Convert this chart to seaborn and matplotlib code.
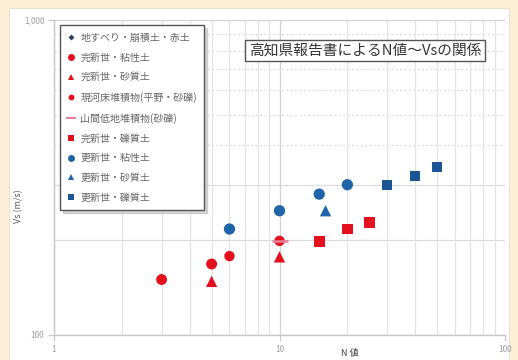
import matplotlib
matplotlib.use("Agg")
import matplotlib.pyplot as plt
from matplotlib.lines import Line2D
from matplotlib.patches import Rectangle
from matplotlib.ticker import FixedLocator, NullFormatter
import pandas as pd
import seaborn as sns

# N value / shear-wave velocity pairs per soil class
landslide_n = []
landslide_vs = []
hol_clay_n = [3, 5]
hol_clay_vs = [150, 168]
hol_sand_n = [5, 10]
hol_sand_vs = [148, 177]
river_gravel_n = [6, 10]
river_gravel_vs = [178, 199]
valley_gravel_n = [10]
valley_gravel_vs = [199]
hol_gravel_n = [15, 20, 25]
hol_gravel_vs = [198, 217, 228]
ple_clay_n = [6, 10, 15, 20]
ple_clay_vs = [217, 248, 280, 300]
ple_sand_n = [16]
ple_sand_vs = [248]
ple_gravel_n = [30, 40, 50]
ple_gravel_vs = [300, 320, 341]

labels = [
    "地すべり・崩積土・赤土",
    "完新世・粘性土",
    "完新世・砂質土",
    "現河床堆積物(平野・砂礫)",
    "山間低地堆積物(砂礫)",
    "完新世・礫質土",
    "更新世・粘性土",
    "更新世・砂質土",
    "更新世・礫質土",
]
x_ticks = [1, 10, 100]
x_tick_labels = ["1", "10", "100"]
y_ticks = [100, 1000]
y_tick_labels = ["100", "1,000"]

RED = "#E3101E"
BLUE = "#1F63A8"
DBLUE = "#1B5594"
PINK = "#E8809A"
NAVY = "#2A3D66"

styles = [
    dict(marker="D", color=NAVY, s=16, lm=3),
    dict(marker="o", color=RED, s=62, lm=5),
    dict(marker="^", color=RED, s=66, lm=5),
    dict(marker="o", color=RED, s=56, lm=4.2),
    dict(marker="_", color=PINK, s=120, lm=7),
    dict(marker="s", color=RED, s=60, lm=5),
    dict(marker="o", color=BLUE, s=66, lm=5),
    dict(marker="^", color=BLUE, s=66, lm=4.5),
    dict(marker="s", color=DBLUE, s=56, lm=5),
]
xs = [landslide_n, hol_clay_n, hol_sand_n, river_gravel_n, valley_gravel_n,
      hol_gravel_n, ple_clay_n, ple_sand_n, ple_gravel_n]
ys = [landslide_vs, hol_clay_vs, hol_sand_vs, river_gravel_vs, valley_gravel_vs,
      hol_gravel_vs, ple_clay_vs, ple_sand_vs, ple_gravel_vs]

sns.set_theme(style="white")
plt.rcParams["font.family"] = ["Noto Sans CJK JP", "DejaVu Sans"]

fig = plt.figure(figsize=(5.18, 3.6), dpi=100)
fig.patch.set_facecolor("#FCEFD6")
# white chart area inside the cream frame
fig.add_artist(Rectangle((9 / 518, 0), 500 / 518, 352 / 360,
                         transform=fig.transFigure, facecolor="white",
                         edgecolor="#E6DCC8", linewidth=0.6, zorder=-5))

ax = fig.add_axes([54 / 518, 25 / 360, 451 / 518, 315 / 360])
ax.set_facecolor("white")
ax.set_zorder(1)

for lab, st, x, y in zip(labels, styles, xs, ys):
    if not x:
        continue
    df = pd.DataFrame({"N": x, "Vs": y})
    lw = 1.8 if st["marker"] == "_" else 0
    sns.scatterplot(data=df, x="N", y="Vs", ax=ax, marker=st["marker"],
                    color=st["color"], s=st["s"], linewidth=lw,
                    edgecolor=st["color"] if lw else "none", legend=False,
                    zorder=3)

ax.set_xscale("log")
ax.set_yscale("log")
ax.set_xlim(1, 100)
ax.set_ylim(100, 1000)

ax.xaxis.set_major_locator(FixedLocator(x_ticks))
ax.yaxis.set_major_locator(FixedLocator(y_ticks))
ax.set_xticklabels(x_tick_labels)
ax.set_yticklabels(y_tick_labels)
ax.xaxis.set_minor_locator(FixedLocator([m * d for d in (1, 10) for m in range(2, 10)]))
ax.yaxis.set_minor_locator(FixedLocator([]))
ax.xaxis.set_minor_formatter(NullFormatter())

# gridlines: solid majors and vertical minors, dotted upper horizontal minors
ax.grid(which="major", color="#D2D2D2", linewidth=0.9)
ax.grid(which="minor", axis="x", color="#E4E4E4", linewidth=0.9)
for v in (200, 300):
    ax.axhline(v, color="#DCDCDC", linewidth=0.9, zorder=0)
for v in (400, 500, 600, 700, 800, 900):
    ax.axhline(v, color="#DADADA", linewidth=0.9, linestyle=(0, (1.5, 2)), zorder=0)
ax.set_axisbelow(True)
for side in ("top", "right"):
    ax.spines[side].set_visible(False)
for side in ("left", "bottom"):
    ax.spines[side].set_color("#C8C8C8")
    ax.spines[side].set_linewidth(1.0)
ax.tick_params(which="major", direction="out", length=4, width=0.8,
               color="#C8C8C8", labelsize=6, labelcolor="#A0A0A0", pad=3,
               left=True, bottom=True)
ax.tick_params(which="minor", length=0)

ax.set_xlabel("N 値", fontsize=6.5, color="#444444")
ax.xaxis.set_label_coords(0.655, -0.045)
ax.set_ylabel("Vs (m/s)", fontsize=6.5, color="#555555")
ax.yaxis.set_label_coords(-0.068, 0.41)

handles = [Line2D([], [], linestyle="None", marker=st["marker"],
                  color=st["color"], markersize=st["lm"],
                  markeredgewidth=1.5 if st["marker"] == "_" else 0)
           for st in styles]
leg = ax.legend(handles, labels, loc="upper left",
                bbox_to_anchor=(0.013, 0.984), borderaxespad=0,
                fontsize=7.2, labelspacing=0.98, handlelength=0.7,
                handletextpad=0.6, borderpad=0.75, frameon=True,
                fancybox=False, shadow={"color": "#BBBBBB", "alpha": 0.6},
                labelcolor="#666666")
leg.get_frame().set_edgecolor("#555555")
leg.get_frame().set_linewidth(1.0)

ax.text(0.69, 0.903, "高知県報告書によるN値～Vsの関係", transform=ax.transAxes,
        ha="center", va="center", fontsize=10.6, color="#333333",
        bbox=dict(boxstyle="square,pad=0.25", facecolor="white",
                  edgecolor="#555555", linewidth=1.0))

fig.savefig("out.png", dpi=100, facecolor=fig.get_facecolor())
